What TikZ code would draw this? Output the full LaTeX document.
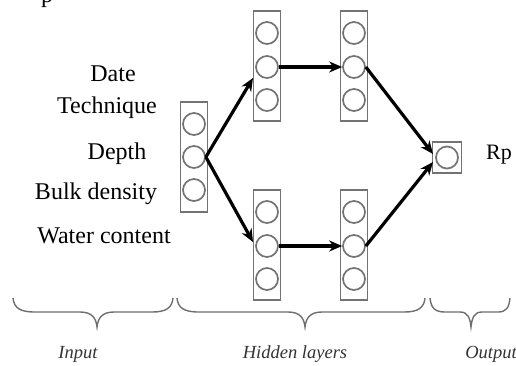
\documentclass[tikz,border=0pt]{standalone}
\usepackage{fontspec}
\setmainfont{Liberation Serif}
\usetikzlibrary{arrows.meta}
\definecolor{boxgray}{RGB}{115,115,115}
\definecolor{bracegray}{RGB}{110,110,110}
\begin{document}
\begin{tikzpicture}[x=1pt,y=-1pt,
  layerbox/.style={draw=boxgray,line width=1.7pt,rectangle,minimum width=27pt,minimum height=110pt,inner sep=0pt},
  outbox/.style={draw=boxgray,line width=1.7pt,rectangle,minimum width=29pt,minimum height=31pt,inner sep=0pt},
  neuron/.style={draw=boxgray,line width=1.7pt,circle,minimum size=22pt,inner sep=0pt},
  conn/.style={line width=3.2pt,-{Stealth[length=13pt,width=11pt]}},
  inlabel/.style={font=\fontsize{24}{26}\selectfont,anchor=base},
  brace/.style={draw=bracegray,line width=1.4pt},
  bracelabel/.style={font=\fontsize{18.5}{20}\selectfont\itshape,text=black!80}
]
\useasboundingbox (0,0) rectangle (516,365);

% fragment of text above
\node[inlabel] (frag) at (47,2) {p};

% input layer
\node[layerbox] (inb) at (194,157) {};
\node[neuron] (in1) at (194,124) {};
\node[neuron] (in2) at (194,157) {};
\node[neuron] (in3) at (194,190) {};

% hidden top
\node[layerbox] (h1t) at (267,66) {};
\node[neuron] (h1t1) at (267,33) {};
\node[neuron] (h1t2) at (267,67) {};
\node[neuron] (h1t3) at (267,100) {};
\node[layerbox] (h2t) at (354,66) {};
\node[neuron] (h2t1) at (354,33) {};
\node[neuron] (h2t2) at (354,67) {};
\node[neuron] (h2t3) at (354,100) {};

% hidden bottom
\node[layerbox] (h1b) at (267,245) {};
\node[neuron] (h1b1) at (267,212) {};
\node[neuron] (h1b2) at (267,246) {};
\node[neuron] (h1b3) at (267,279) {};
\node[layerbox] (h2b) at (354,245) {};
\node[neuron] (h2b1) at (354,212) {};
\node[neuron] (h2b2) at (354,246) {};
\node[neuron] (h2b3) at (354,279) {};

% output
\node[outbox] (outb) at (447,157.5) {};
\node[neuron] (out) at (447,157.5) {};
\node[font=\fontsize{22}{24}\selectfont,anchor=base west,inner sep=0pt] (rp) at (486,159) {Rp};

% input labels
\node[inlabel] (date) at (113,81) {Date};
\node[inlabel] (tech) at (107,113) {Technique};
\node[inlabel] (depth) at (117,159) {Depth};
\node[inlabel] (bulk) at (96,199) {Bulk density};
\node[inlabel] (water) at (104,243) {Water content};

% arrow end points
\coordinate (t1) at (253,78);
\coordinate (b1) at (253,242);
\coordinate (ot) at (433,154);
\coordinate (ob) at (433,162);

\draw[conn] (in2.east) -- (t1);
\draw[conn] (in2.east) -- (b1);
\draw[conn] (h1t2.east) -- (h2t2.west);
\draw[conn] (h1b2.east) -- (h2b2.west);
\draw[conn] (h2t2.east) -- (ot);
\draw[conn] (h2b2.east) -- (ob);

% braces
\draw[brace] (13,298) .. controls (14,308) and (20,312) .. (35,312) -- (80,312) .. controls (92,312) and (96,318) .. (97,327)
  .. controls (98,318) and (102,312) .. (114,312) -- (152,312) .. controls (166,312) and (172,308) .. (173,298);
\draw[brace] (177,298) .. controls (178,308) and (184,312) .. (199,312) -- (288,312) .. controls (300,312) and (304,318) .. (305,327)
  .. controls (306,318) and (310,312) .. (322,312) -- (404,312) .. controls (418,312) and (424,308) .. (425,298);
\draw[brace] (430,298) .. controls (431,308) and (435,312) .. (445,312) -- (460,312) .. controls (468,312) and (470,318) .. (471,327)
  .. controls (472,318) and (474,312) .. (482,312) -- (498,312) .. controls (506,312) and (509,308) .. (510,298);

\node[bracelabel] (linput) at (78,354) {Input};
\node[bracelabel] (lhidden) at (295,354) {Hidden layers};
\node[bracelabel] (loutput) at (491,354) {Output};
\end{tikzpicture}
\end{document}
